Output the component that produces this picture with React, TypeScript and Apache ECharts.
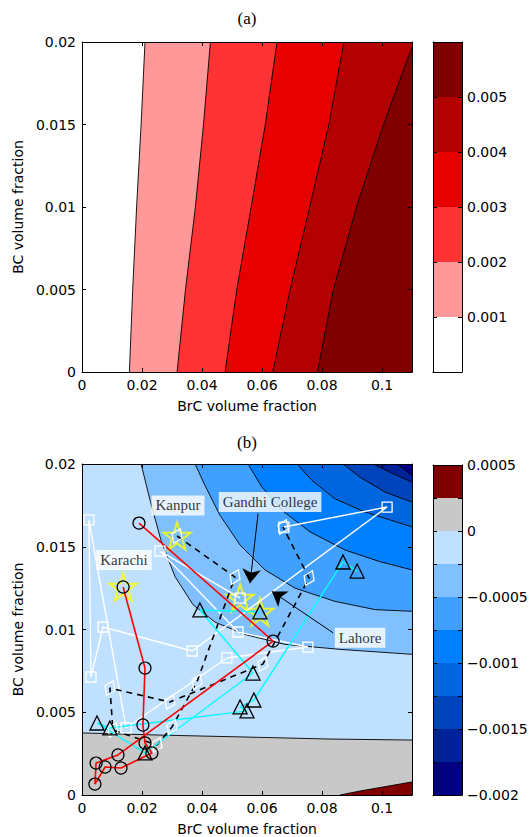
import React, { useEffect, useRef } from 'react';
import * as echarts from 'echarts';

// ---------- data ----------
const xTickStep = 0.02;
const yTickStep = 0.005;

// Panel (a) contour boundaries (BrC, BC), bottom -> top
const levelsA = [0, 0.001, 0.002, 0.003, 0.004, 0.005, 0.006];
const colorsA = ['#ffffff', '#ff9999', '#ff3333', '#e60000', '#b30000', '#800000'];
const contourA1 = [[0.0158, 0], [0.0169, 0.005], [0.0182, 0.01], [0.0197, 0.015], [0.021, 0.02]];
const contourA2 = [[0.0317, 0], [0.0345, 0.005], [0.0378, 0.01], [0.0405, 0.015], [0.0428, 0.02]];
const contourA3 = [[0.0477, 0], [0.0516, 0.005], [0.0564, 0.01], [0.0611, 0.015], [0.065, 0.02]];
const contourA4 = [[0.0636, 0], [0.0694, 0.005], [0.0759, 0.01], [0.0823, 0.015], [0.0873, 0.02]];
const contourA5 = [[0.0785, 0], [0.0838, 0.005], [0.0915, 0.01], [0.1005, 0.015], [0.11, 0.0197]];

// Panel (b) contour boundaries
const levelsB = [-0.002, -0.00175, -0.0015, -0.00125, -0.001, -0.00075, -0.0005, -0.00025, 0, 0.00025, 0.0005];
const colorsB = ['#000080', '#002299', '#0044bb', '#0066dd', '#0080ff', '#40a0ff', '#80c0ff', '#c0e0ff', '#c8c8c8', '#800000'];
const contourBZero = [[0, 0.00375], [0.026, 0.00362], [0.055, 0.0035], [0.0827, 0.00338], [0.11, 0.00332]];
const contourBPos = [[0.086, 0], [0.0927, 0.00024], [0.0993, 0.00045], [0.11, 0.00079]];
const contourB1 = [[0.0197, 0.02], [0.0227, 0.0178], [0.0263, 0.0154], [0.031, 0.0132], [0.037, 0.0115], [0.0443, 0.01045], [0.0543, 0.0097], [0.0677, 0.0091], [0.086, 0.0088], [0.11, 0.0085]];
const contourB2 = [[0.0377, 0.02], [0.041, 0.0187], [0.046, 0.0169], [0.0527, 0.0151], [0.061, 0.0136], [0.071, 0.0125], [0.0843, 0.0117], [0.0977, 0.0112], [0.11, 0.0111]];
const contourB3 = [[0.0553, 0.02], [0.06, 0.0186], [0.0667, 0.0172], [0.076, 0.0159], [0.0877, 0.0148], [0.0993, 0.0141], [0.11, 0.0136]];
const contourB4 = [[0.0717, 0.02], [0.0767, 0.019], [0.0843, 0.0179], [0.0943, 0.0171], [0.11, 0.0162]];
const contourB5 = [[0.087, 0.02], [0.0927, 0.0192], [0.101, 0.0183], [0.11, 0.0177]];
const contourB6 = [[0.097, 0.02], [0.1027, 0.0195], [0.11, 0.0189]];
const contourB7 = [[0.105, 0.02], [0.1073, 0.0197], [0.11, 0.0193]];

// Panel (b) monthly trajectories (BrC, BC)
const redCircles = [[0.019, 0.01643], [0.0637, 0.0093], [0.012, 0.00242], [0.0047, 0.00193], [0.0043, 0.00066], [0.0077, 0.00169], [0.013, 0.00163], [0.0233, 0.00254], [0.021, 0.00314], [0.0203, 0.00423], [0.021, 0.00767], [0.0137, 0.01257]];
const whiteSquares = [[0.0673, 0.01619], [0.1017, 0.0174], [0.0367, 0.0087], [0.007, 0.01015], [0.003, 0.00713], [0.0023, 0.01662], [0.0147, 0.00405], [0.0483, 0.00828], [0.0753, 0.00894], [0.052, 0.00985], [0.026, 0.01474], [0.0527, 0.0119]];
const dashedDiamonds = [[0.0317, 0.01565], [0.051, 0.01317], [0.0383, 0.00683], [0.03, 0.00411], [0.025, 0.00302], [0.0103, 0.00393], [0.0093, 0.00646], [0.0293, 0.00562], [0.0603, 0.00791], [0.0757, 0.01311], [0.067, 0.01619]];
const cyanTriangles = [[0.0593, 0.01106], [0.0393, 0.01118], [0.057, 0.00737], [0.021, 0.00254], [0.005, 0.00435], [0.0093, 0.00405], [0.055, 0.00508], [0.0527, 0.00532], [0.0573, 0.00574], [0.087, 0.01408], [0.0917, 0.01353]];
const siteStars = [[0.0317, 0.01565], [0.0137, 0.01257], [0.0527, 0.0119], [0.0593, 0.01106]];

// annotations: label anchor, arrow start, arrow tip
const siteNames = ['Kanpur', 'Karachi', 'Gandhi College', 'Lahore'];
const labelAnchors = [[0.032, 0.0175], [0.014, 0.0142], [0.0627, 0.0177], [0.0927, 0.0095]];
const arrowFrom = [null, null, [0.0587, 0.0170], [0.0837, 0.0098]];
const arrowTo = [null, null, [0.056, 0.0128], [0.0633, 0.0123]];

// ---------- helpers ----------
const XMAX = 0.11;
const YMAX = 0.02;
const SANS = 'DejaVu Sans';
const SERIF = 'Liberation Serif';
const fmt = (v: number) => String(parseFloat(v.toPrecision(6)));

const STAR = 'path://M50,2 L61.2,36.6 L97.6,36.6 L68.2,58 L79.4,92.6 L50,71.2 L20.6,92.6 L31.8,58 L2.4,36.6 L38.8,36.6 Z';

function regionSeries(regions: any[], xi: number, yi: number) {
  return {
    type: 'custom',
    xAxisIndex: xi,
    yAxisIndex: yi,
    clip: true,
    silent: true,
    z: 1,
    data: regions.map((r) => r.pts[0]),
    renderItem: (params: any, api: any) => {
      const r = regions[params.dataIndex];
      const points = r.pts.concat(r.corners).map((p: number[]) => api.coord(p));
      return { type: 'polygon', shape: { points }, style: { fill: r.fill, stroke: 'none' } };
    },
  };
}

function contourLine(pts: number[][], xi: number, yi: number) {
  return {
    type: 'line',
    xAxisIndex: xi,
    yAxisIndex: yi,
    data: pts,
    symbol: 'none',
    silent: true,
    z: 2,
    lineStyle: { color: '#000', width: 0.9 },
  };
}

function bandSeries(levels: number[], colors: string[], xi: number, yi: number) {
  return {
    type: 'custom',
    xAxisIndex: xi,
    yAxisIndex: yi,
    silent: true,
    z: 1,
    data: colors.map((_, i) => [levels[i], levels[i + 1]]),
    renderItem: (params: any, api: any) => {
      const p0 = api.coord([0, api.value(1)]);
      const p1 = api.coord([1, api.value(0)]);
      return {
        type: 'rect',
        shape: { x: p0[0], y: p0[1], width: p1[0] - p0[0], height: p1[1] - p0[1] },
        style: { fill: colors[params.dataIndex], stroke: 'none' },
      };
    },
  };
}

const tickStyle = { show: true, inside: true, length: 4, lineStyle: { color: '#000', width: 1 } };
const lineStyleAx = { show: true, onZero: false, lineStyle: { color: '#000', width: 1 } };
const labelStyle = { color: '#000', fontFamily: SANS, fontSize: 14 };

function plotAxes(grid: number) {
  const xBase = { type: 'value', gridIndex: grid, min: 0, max: XMAX, interval: xTickStep, z: 10, axisLine: lineStyleAx, axisTick: tickStyle, splitLine: { show: false } };
  const yBase = { type: 'value', gridIndex: grid, min: 0, max: YMAX, interval: yTickStep, z: 10, axisLine: lineStyleAx, axisTick: tickStyle, splitLine: { show: false } };
  return {
    x: [
      { ...xBase, position: 'bottom', name: 'BrC volume fraction', nameLocation: 'middle', nameGap: 27, nameTextStyle: labelStyle,
        axisLabel: { ...labelStyle, margin: 6, formatter: (v: number) => (v > 0.105 ? '' : fmt(v)) } },
      { ...xBase, position: 'top', axisLabel: { show: false } },
    ],
    y: [
      { ...yBase, position: 'left', name: 'BC volume fraction', nameLocation: 'middle', nameGap: 52, nameTextStyle: labelStyle,
        axisLabel: { ...labelStyle, margin: 6, formatter: (v: number) => fmt(v) } },
      { ...yBase, position: 'right', axisLabel: { show: false } },
    ],
  };
}

function barAxes(grid: number, min: number, max: number, step: number, labelFn: (v: number) => string) {
  const xBase = { type: 'value', gridIndex: grid, min: 0, max: 1, z: 10, axisLine: lineStyleAx, axisTick: { show: false }, axisLabel: { show: false }, splitLine: { show: false } };
  const yBase = { type: 'value', gridIndex: grid, min, max, interval: step, z: 10, axisLine: lineStyleAx, axisTick: tickStyle, splitLine: { show: false } };
  return {
    x: [{ ...xBase, position: 'bottom' }, { ...xBase, position: 'top' }],
    y: [
      { ...yBase, position: 'right', axisLabel: { ...labelStyle, margin: 5, formatter: labelFn } },
      { ...yBase, position: 'left', axisLabel: { show: false } },
    ],
  };
}

export default function App() {
  const ref = useRef<HTMLDivElement>(null);

  useEffect(() => {
    document.body.style.margin = '0';
    const chart = echarts.init(ref.current!, null, { renderer: 'svg' });

    const pa = plotAxes(0);
    const pb = plotAxes(1);
    const ca = barAxes(2, levelsA[0], levelsA[levelsA.length - 1], 0.001, (v) => (v > 0.0005 && v < 0.0055 ? v.toFixed(3) : ''));
    const cb = barAxes(3, levelsB[0], levelsB[levelsB.length - 1], 0.00025, (v) => {
      const k = v / 0.0005;
      if (Math.abs(k - Math.round(k)) > 1e-6) return '';
      return fmt(parseFloat(v.toFixed(4))).replace('-', '\u2212');
    });

    const contoursA = [contourA1, contourA2, contourA3, contourA4, contourA5];
    const regionsA = contoursA.map((c, i) => ({ pts: c, fill: colorsA[i + 1], corners: [[XMAX, YMAX], [XMAX, 0]] }));
    const contoursB = [contourB1, contourB2, contourB3, contourB4, contourB5, contourB6, contourB7];
    const regionsB = [
      { pts: contourBZero, fill: colorsB[8], corners: [[XMAX, 0], [0, 0]] },
      { pts: contourBPos, fill: colorsB[9], corners: [[XMAX, 0]] },
      ...contoursB.map((c, i) => ({ pts: c, fill: colorsB[6 - i], corners: [[XMAX, YMAX]] })),
    ];

    const markerBase = { type: 'line', xAxisIndex: 2, yAxisIndex: 2, z: 4, silent: true, showSymbol: true, emphasis: { disabled: true } };

    const arrowPairs = siteNames
      .map((_, i) => i)
      .filter((i) => arrowFrom[i])
      .map((i) => [{ coord: arrowFrom[i] }, { coord: arrowTo[i] }]);

    const option: any = {
      animation: false,
      grid: [
        { left: 82, top: 42, width: 330, height: 330, show: true, backgroundColor: colorsA[0], borderWidth: 0 },
        { left: 82, top: 464, width: 330, height: 331, show: true, backgroundColor: colorsB[7], borderWidth: 0 },
        { left: 433, top: 42, width: 29, height: 330 },
        { left: 433, top: 465, width: 29, height: 330 },
      ],
      xAxis: [...pa.x, ...pb.x, ...ca.x, ...cb.x],
      yAxis: [...pa.y, ...pb.y, ...ca.y, ...cb.y],
      graphic: [
        { type: 'text', x: 247, y: 18, style: { text: '(a)', fontFamily: SERIF, fontSize: 17, fill: '#000', textAlign: 'center', textVerticalAlign: 'middle' } },
        { type: 'text', x: 247, y: 442, style: { text: '(b)', fontFamily: SERIF, fontSize: 17, fill: '#000', textAlign: 'center', textVerticalAlign: 'middle' } },
      ],
      series: [
        regionSeries(regionsA, 0, 0),
        ...contoursA.map((c) => contourLine(c, 0, 0)),
        regionSeries(regionsB, 2, 2),
        contourLine(contourBZero, 2, 2),
        contourLine(contourBPos, 2, 2),
        ...contoursB.map((c) => contourLine(c, 2, 2)),
        bandSeries(levelsA, colorsA, 4, 4),
        bandSeries(levelsB, colorsB, 6, 6),
        {
          type: 'scatter', xAxisIndex: 2, yAxisIndex: 2, z: 3, silent: true,
          data: siteStars, symbol: STAR, symbolSize: 27,
          itemStyle: { color: 'rgba(0,0,0,0)', borderColor: '#ffff00', borderWidth: 2 },
        },
        {
          ...markerBase, data: whiteSquares, symbol: 'rect', symbolSize: 10,
          lineStyle: { color: '#ffffff', width: 1.4 },
          itemStyle: { color: 'rgba(0,0,0,0)', borderColor: '#ffffff', borderWidth: 1.3 },
        },
        {
          ...markerBase, data: dashedDiamonds, symbol: 'diamond', symbolSize: [11, 16], symbolRotate: -25,
          lineStyle: { color: '#000', width: 1.6, type: [6, 5] },
          itemStyle: { color: 'rgba(0,0,0,0)', borderColor: '#ffffff', borderWidth: 1.3 },
        },
        {
          ...markerBase, data: cyanTriangles, symbol: 'triangle', symbolSize: 14,
          lineStyle: { color: '#00ffff', width: 1.4 },
          itemStyle: { color: 'rgba(0,0,0,0)', borderColor: '#000', borderWidth: 1.3 },
        },
        {
          ...markerBase, data: redCircles, symbol: 'circle', symbolSize: 12,
          lineStyle: { color: '#ff0000', width: 1.6 },
          itemStyle: { color: 'rgba(0,0,0,0)', borderColor: '#000', borderWidth: 1.2 },
        },
        {
          type: 'line', xAxisIndex: 2, yAxisIndex: 2, z: 5, silent: true, data: [],
          markLine: {
            silent: true, symbol: ['none', 'arrow'], symbolSize: 14, animation: false,
            lineStyle: { color: '#000', width: 1, type: 'solid' }, label: { show: false },
            data: arrowPairs,
          },
        },
        {
          type: 'scatter', xAxisIndex: 2, yAxisIndex: 2, z: 6, silent: true,
          data: siteNames.map((n, i) => ({ name: n, value: labelAnchors[i] })),
          symbol: 'rect', symbolSize: 1, itemStyle: { color: 'rgba(0,0,0,0)' },
          label: { show: true, position: 'inside', formatter: '{b}', backgroundColor: '#ffffff', padding: [3, 4, 2, 4], fontFamily: SERIF, fontSize: 15, color: '#000' },
        },
      ],
    };
    chart.setOption(option);
    return () => chart.dispose();
  }, []);

  return <div ref={ref} style={{ position: 'fixed', left: 0, top: 0, width: 531, height: 837, background: '#fff' }} />;
}
